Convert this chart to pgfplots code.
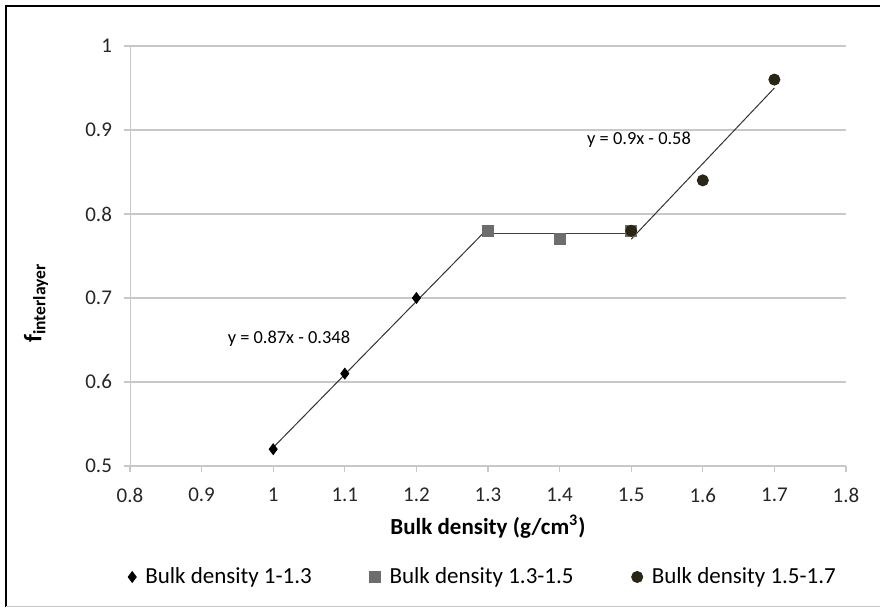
\documentclass[border=0pt]{standalone}
\usepackage{pgfplots}
\pgfplotsset{compat=1.18}
\usepackage{fontspec}
\setmainfont{Carlito}
\definecolor{sqgray}{HTML}{6D6D6D}
\definecolor{circ}{HTML}{2A2616}
\definecolor{gridc}{HTML}{C8C8C8}
\begin{document}
\begin{tikzpicture}
\path[use as bounding box] (0,0) rectangle (440pt,304pt);
\draw[black, line width=1.2pt] (3pt,0.5pt) -- (3pt,301pt) -- (440pt,301pt);
\draw[gridc, line width=0.6pt] (3pt,0.6pt) -- (440pt,0.6pt);
\begin{axis}[
  at={(65pt,71pt)}, anchor=south west,
  scale only axis, width=358pt, height=210pt,
  xmin=0.8, xmax=1.8, ymin=0.5, ymax=1,
  xtick={0.8,0.9,...,1.8}, ytick={0.5,0.6,...,1.0},
  axis lines=left, axis line style={gridc, -},
  ymajorgrids, grid style={gridc, line width=0.6pt},
  tick style={gridc, line width=0.6pt}, tick align=outside,
  major tick length=3pt,
  /pgf/number format/assume math mode=true,
  /pgf/number format/fixed, /pgf/number format/precision=1,
  xticklabel style={font=\fontsize{10.5}{12}\selectfont, text=black!85, yshift=-4.5pt},
  yticklabel style={font=\fontsize{10.5}{12}\selectfont, text=black!85, xshift=-2.5pt},
  xlabel={\textbf{Bulk density (g/cm\textsuperscript{3})}},
  xlabel style={at={(axis description cs:0.5,0)}, yshift=-30.5pt, anchor=center, font=\fontsize{11.5}{13}\selectfont},
  ylabel={\textbf{f\textsubscript{interlayer}}},
  ylabel style={at={([xshift=-47pt]axis description cs:0,0.388)}, anchor=center, font=\fontsize{12.5}{14}\selectfont},
  legend columns=3,
  legend style={at={(axis description cs:0.5,0)}, xshift=-2pt, yshift=-55.5pt, anchor=center, draw=none,
    font=\fontsize{11.5}{13}\selectfont,
    /tikz/every odd column/.append style={column sep=2.5pt},
    /tikz/every even column/.append style={column sep=27pt}},
  legend cell align=left,
  clip=false,
]
\addplot[only marks, mark=diamond*, mark size=2.7pt, black, mark options={fill=black}] coordinates {(1,0.52) (1.1,0.61) (1.2,0.70) (1.3,0.78)};
\addlegendentry{Bulk density 1-1.3}
\addplot[only marks, mark=square*, mark size=2.7pt, sqgray, mark options={fill=sqgray}] coordinates {(1.3,0.78) (1.4,0.77) (1.5,0.78)};
\addlegendentry{Bulk density 1.3-1.5}
\addplot[only marks, mark=*, mark size=2.8pt, circ, mark options={fill=circ}] coordinates {(1.5,0.78) (1.6,0.84) (1.7,0.96)};
\addlegendentry{Bulk density 1.5-1.7}
\addplot[forget plot, black!80, line width=0.5pt] coordinates {(1,0.522) (1.3,0.783)};
\addplot[forget plot, black!75, line width=0.8pt] coordinates {(1.3,0.777) (1.5,0.777)};
\addplot[forget plot, black!80, line width=0.5pt] coordinates {(1.5,0.77) (1.7,0.95)};
\node[font=\fontsize{9.2}{10}\selectfont] at (axis cs:1.022,0.652) {y = 0.87x - 0.348};
\node[font=\fontsize{9.2}{10}\selectfont] at (axis cs:1.511,0.889) {y = 0.9x - 0.58};
\end{axis}
\end{tikzpicture}
\end{document}
